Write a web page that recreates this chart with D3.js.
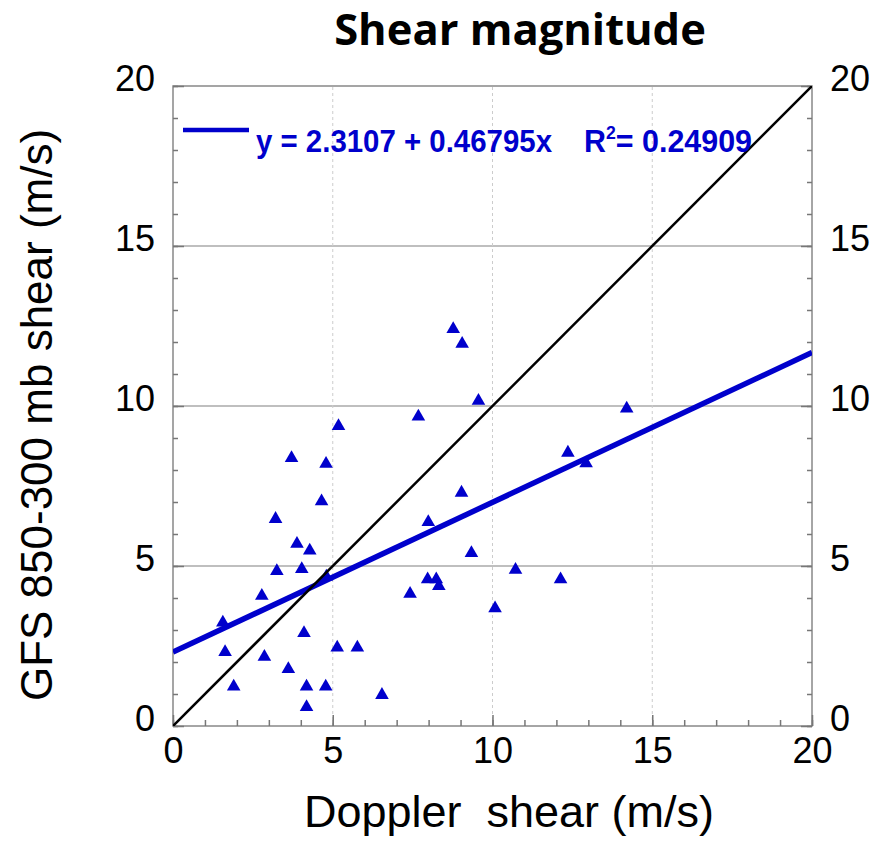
<!DOCTYPE html>
<html>
<head>
<meta charset="utf-8">
<script src="https://cdn.jsdelivr.net/npm/d3@7"></script>
<style>
  body { margin: 0; background: #fff; }
  .tick text { font-family: "Liberation Sans", Arial, sans-serif; }
</style>
</head>
<body>
<div id="chartWrapper"></div>
<script>
// data (m/s)
var dopplerShear = [1.56,1.63,1.90,2.78,2.86,3.21,3.25,3.61,3.71,3.88,4.03,4.10,4.18,4.18,4.28,4.65,4.79,4.78,4.80,5.18,
                    5.14,5.77,6.54,7.42,7.68,7.97,7.99,8.24,8.32,8.77,9.05,9.03,9.34,9.56,10.08,10.72,12.13,12.36,12.93,14.20];
var gfsShear     = [3.23,2.31,1.23,4.07,2.16,6.47,4.84,1.78,8.37,5.69,4.90,2.90,1.23,0.59,5.48,7.02,8.19,1.23,4.67,9.37,
                    2.45,2.45,0.97,4.13,9.67,4.58,6.37,4.58,4.37,12.40,11.94,7.29,5.40,10.16,3.68,4.88,4.58,8.54,8.21,9.92];
var fitIntercept = 2.3107, fitSlope = 0.46795, fitR2 = 0.24909;
var axisDomain = [0, 20];
var majorTicks = [0, 5, 10, 15, 20];
var minorTicks = d3.range(0, 21);
var gridTicks = [5, 10, 15];

var W = 873, H = 845;
var margin = {top: 86, right: 61, bottom: 119, left: 173};
var blue = "#0000cc";

var svg = d3.select("#chartWrapper").append("svg")
  .attr("width", W)
  .attr("height", H);

var x = d3.scaleLinear().domain(axisDomain).range([margin.left, W - margin.right]),
    y = d3.scaleLinear().domain(axisDomain).range([H - margin.bottom, margin.top]);

var x0 = x.range()[0], x1 = x.range()[1], y0 = y.range()[0], y1 = y.range()[1];

// grid
svg.append("g").selectAll("line.hgrid")
  .data(gridTicks).enter().append("line")
  .attr("x1", x0).attr("x2", x1)
  .attr("y1", function(d){ return y(d); }).attr("y2", function(d){ return y(d); })
  .attr("stroke", "#aaa").attr("stroke-width", 1.5);
svg.append("g").selectAll("line.vgrid")
  .data(gridTicks).enter().append("line")
  .attr("y1", y0).attr("y2", y1)
  .attr("x1", function(d){ return x(d); }).attr("x2", function(d){ return x(d); })
  .attr("stroke", "#ccc").attr("stroke-width", 1).attr("stroke-dasharray", "3,3");

// frame
svg.append("rect")
  .attr("x", x0).attr("y", y1)
  .attr("width", x1 - x0).attr("height", y0 - y1)
  .attr("fill", "none").attr("stroke", "#888").attr("stroke-width", 1.5);

function styleAxis(g){
  g.select(".domain").remove();
  g.selectAll("line").attr("stroke", "#777").attr("stroke-width", 1.5);
  g.selectAll("text").attr("fill", "#000").style("font-size", "36px");
}

// minor + major ticks, inward
svg.append("g").attr("transform", "translate(" + x0 + ",0)")
  .call(d3.axisLeft(y).tickValues(minorTicks).tickSize(-5).tickFormat(""))
  .call(styleAxis);
svg.append("g").attr("transform", "translate(" + x0 + ",0)")
  .call(d3.axisLeft(y).tickValues(majorTicks).tickSize(-11).tickPadding(18).tickFormat(d3.format("d")))
  .call(styleAxis)
  .selectAll("text").attr("dy", "0.12em");

svg.append("g").attr("transform", "translate(" + x1 + ",0)")
  .call(d3.axisRight(y).tickValues(minorTicks).tickSize(-5).tickFormat(""))
  .call(styleAxis);
svg.append("g").attr("transform", "translate(" + x1 + ",0)")
  .call(d3.axisRight(y).tickValues(majorTicks).tickSize(-11).tickPadding(18).tickFormat(d3.format("d")))
  .call(styleAxis)
  .selectAll("text").attr("dy", "0.12em");

svg.append("g").attr("transform", "translate(0," + y0 + ")")
  .call(d3.axisBottom(x).tickValues(minorTicks).tickSize(-6).tickFormat(""))
  .call(styleAxis);
svg.append("g").attr("transform", "translate(0," + y0 + ")")
  .call(d3.axisBottom(x).tickValues(majorTicks).tickSize(-11).tickPadding(11).tickFormat(d3.format("d")))
  .call(styleAxis);

// clip marks to the plot box
svg.append("clipPath").attr("id", "plotClip")
  .append("rect").attr("x", x0).attr("y", y1).attr("width", x1 - x0).attr("height", y0 - y1);
var plot = svg.append("g").attr("clip-path", "url(#plotClip)");

// points
var pts = dopplerShear.map(function(d, i){ return {x: d, y: gfsShear[i]}; });
plot.selectAll("path.pt")
  .data(pts).enter().append("path")
  .attr("class", "pt")
  .attr("d", d3.symbol().type(d3.symbolTriangle).size(80))
  .attr("transform", function(d){ return "translate(" + x(d.x) + "," + y(d.y) + ")"; })
  .attr("fill", blue);

// regression line
var line = d3.line()
  .x(function(d){ return x(d); })
  .y(function(d){ return y(fitIntercept + fitSlope * d); });
plot.append("path")
  .attr("d", line(axisDomain))
  .attr("fill", "none").attr("stroke", blue).attr("stroke-width", 5.5);

// 1:1 line
plot.append("path")
  .attr("d", d3.line().x(function(d){ return x(d); }).y(function(d){ return y(d); })(axisDomain))
  .attr("fill", "none").attr("stroke", "#000").attr("stroke-width", 2.5);

// legend
svg.append("line")
  .attr("x1", 183).attr("x2", 249).attr("y1", 130).attr("y2", 130)
  .attr("stroke", blue).attr("stroke-width", 4.5);
svg.append("text")
  .attr("x", 256).attr("y", 152)
  .attr("textLength", 296).attr("lengthAdjust", "spacingAndGlyphs")
  .style("font-family", "'Liberation Sans', Arial, sans-serif")
  .style("font-weight", "700")
  .style("font-size", "31px")
  .attr("fill", blue)
  .text("y = " + fitIntercept + " + " + fitSlope + "x");
var r2 = svg.append("text")
  .attr("x", 584).attr("y", 152)
  .attr("textLength", 168).attr("lengthAdjust", "spacingAndGlyphs")
  .style("font-family", "'Liberation Sans', Arial, sans-serif")
  .style("font-weight", "700")
  .style("font-size", "31px")
  .attr("fill", blue);
r2.append("tspan").text("R");
r2.append("tspan").attr("dy", -13).style("font-size", "18px").text("2");
r2.append("tspan").attr("dy", 13).text("= " + fitR2);

// titles
svg.append("text")
  .attr("x", 520).attr("y", 45)
  .attr("text-anchor", "middle")
  .style("font-family", "'Open Sans', sans-serif")
  .style("font-weight", "700")
  .style("font-size", "43.5px")
  .text("Shear magnitude");

svg.append("text")
  .attr("x", 509).attr("y", 827)
  .attr("text-anchor", "middle")
  .style("font-family", "'Liberation Sans', Arial, sans-serif")
  .style("font-size", "45px")
  .text("Doppler\u00a0 shear (m/s)");

svg.append("text")
  .attr("transform", "translate(52,415) rotate(-90)")
  .attr("text-anchor", "middle")
  .style("font-family", "'Liberation Sans', Arial, sans-serif")
  .style("font-size", "44px")
  .text("GFS 850-300 mb shear (m/s)");
</script>
</body>
</html>
